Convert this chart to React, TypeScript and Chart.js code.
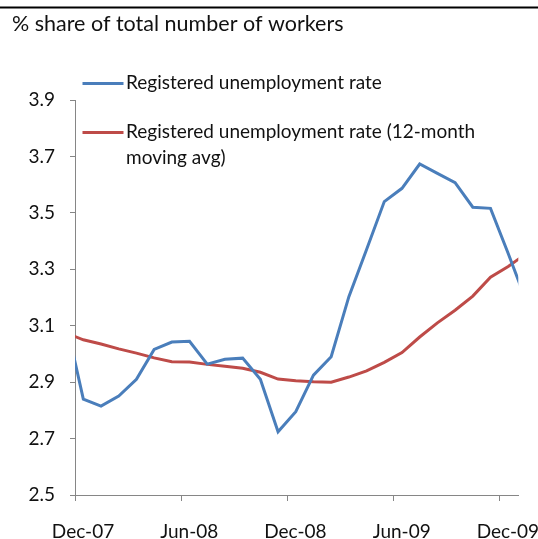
import React, { useEffect, useRef } from "react";
import { Chart, registerables } from "chart.js";

Chart.register(...registerables);

// Monthly observations, Nov-07 .. Jan-10
const months = [
  "Nov-07", "Dec-07", "Jan-08", "Feb-08", "Mar-08", "Apr-08", "May-08", "Jun-08",
  "Jul-08", "Aug-08", "Sep-08", "Oct-08", "Nov-08", "Dec-08", "Jan-09", "Feb-09",
  "Mar-09", "Apr-09", "May-09", "Jun-09", "Jul-09", "Aug-09", "Sep-09", "Oct-09",
  "Nov-09", "Dec-09", "Jan-10",
];

const unemploymentRate = [
  3.12, 2.84, 2.815, 2.851, 2.91, 3.016, 3.042, 3.045,
  2.964, 2.981, 2.985, 2.91, 2.724, 2.795, 2.925, 2.99,
  3.203, 3.37, 3.54, 3.587, 3.673, 3.64, 3.607, 3.52,
  3.516, 3.356, 3.19,
];

const movingAvg = [
  3.075, 3.05, 3.035, 3.018, 3.003, 2.986, 2.972, 2.971,
  2.963, 2.956, 2.949, 2.935, 2.911, 2.905, 2.901, 2.9,
  2.918, 2.94, 2.97, 3.005, 3.06, 3.11, 3.155, 3.205,
  3.272, 3.31, 3.355,
];

const tickLabels = ["Dec-07", "Jun-08", "Dec-08", "Jun-09", "Dec-09"];
const tickMonths = [0, 6, 12, 18, 24];

const seriesNames = [
  "Registered unemployment rate",
  "Registered unemployment rate (12-month",
  "moving avg)",
];

const titleText = "% share of total number of workers";

const FONT = "Lato, 'Open Sans', sans-serif";
const BLUE = "#4a7ebb";
const RED = "#be4b48";
const AXIS = "#868686";
const TEXT = "#111111";

// month index (Nov-07 = 0) -> axis value (Dec-07 tick = 0), plotted mid-month
const toX = (i: number) => i - 1 + 0.47;

export default function App() {
  const ref = useRef<HTMLCanvasElement | null>(null);

  useEffect(() => {
    const canvas = ref.current;
    if (!canvas) return;

    const overlay = {
      id: "overlay",
      afterDraw(chart: any) {
        const ctx = chart.ctx;
        ctx.save();
        // top rule
        ctx.fillStyle = "#000";
        ctx.fillRect(0, 6.5, 538, 2);
        // title
        ctx.fillStyle = TEXT;
        ctx.font = `21.5px ${FONT}`;
        ctx.textBaseline = "alphabetic";
        ctx.textAlign = "left";
        ctx.fillText(titleText, 12, 31);
        // legend
        ctx.lineWidth = 3;
        ctx.lineCap = "butt";
        ctx.strokeStyle = BLUE;
        ctx.beginPath();
        ctx.moveTo(82.5, 83.5);
        ctx.lineTo(123.5, 83.5);
        ctx.stroke();
        ctx.strokeStyle = RED;
        ctx.beginPath();
        ctx.moveTo(82.5, 132.5);
        ctx.lineTo(123.5, 132.5);
        ctx.stroke();
        ctx.font = `19px ${FONT}`;
        ctx.textBaseline = "middle";
        ctx.fillStyle = TEXT;
        ctx.fillText(seriesNames[0], 126, 83);
        ctx.fillText(seriesNames[1], 126, 132);
        ctx.fillText(seriesNames[2], 126, 158);
        ctx.restore();
      },
    };

    const chart = new Chart(canvas, {
      type: "line",
      data: {
        datasets: [
          {
            label: seriesNames[0],
            data: months.map((_, i) => ({ x: toX(i), y: unemploymentRate[i] })),
            borderColor: BLUE,
            backgroundColor: BLUE,
            borderWidth: 3,
            pointRadius: 0,
            tension: 0,
            clip: 0,
          },
          {
            label: seriesNames[1] + " " + seriesNames[2],
            data: months.map((_, i) => ({ x: toX(i), y: movingAvg[i] })),
            borderColor: RED,
            backgroundColor: RED,
            borderWidth: 3,
            pointRadius: 0,
            tension: 0,
            clip: 0,
          },
        ],
      },
      options: {
        responsive: false,
        maintainAspectRatio: false,
        animation: false,
        layout: { padding: { top: 100, right: 19.7, left: 0, bottom: 0 } },
        plugins: {
          legend: { display: false },
          tooltip: { enabled: false },
          title: { display: false },
        },
        scales: {
          x: {
            type: "linear",
            min: 0,
            max: 25.04,
            afterBuildTicks: (s: any) => {
              s.ticks = tickMonths.map((v) => ({ value: v }));
            },
            afterFit: (s: any) => {
              s.height = 44;
              s.paddingLeft = 0;
              s.paddingRight = 0;
            },
            ticks: {
              autoSkip: false,
              maxRotation: 0,
              labelOffset: 8,
              callback: (v: any) => {
                const k = tickMonths.indexOf(Number(v));
                return k >= 0 ? tickLabels[k] : "";
              },
              font: { family: FONT, size: 19 },
              color: TEXT,
              padding: 19,
            },
            grid: { drawOnChartArea: false, drawTicks: true, tickLength: 6, color: AXIS },
            border: { display: true, color: AXIS, width: 1 },
          },
          y: {
            min: 2.5,
            max: 3.9,
            afterFit: (s: any) => {
              s.width = 75;
              s.paddingTop = 0;
              s.paddingBottom = 0;
            },
            ticks: {
              stepSize: 0.2,
              callback: (v: any) => Number(v).toFixed(1),
              font: { family: FONT, size: 19 },
              color: TEXT,
              padding: 15,
            },
            grid: { drawOnChartArea: false, drawTicks: true, tickLength: 5, color: AXIS },
            border: { display: true, color: AXIS, width: 1 },
          },
        },
      },
      plugins: [overlay],
    } as any);

    return () => chart.destroy();
  }, []);

  return (
    <div style={{ position: "fixed", left: 0, top: 0, width: 538, height: 539, background: "#fff" }}>
      <canvas ref={ref} width={538} height={539} style={{ display: "block", width: 538, height: 539 }} />
    </div>
  );
}
